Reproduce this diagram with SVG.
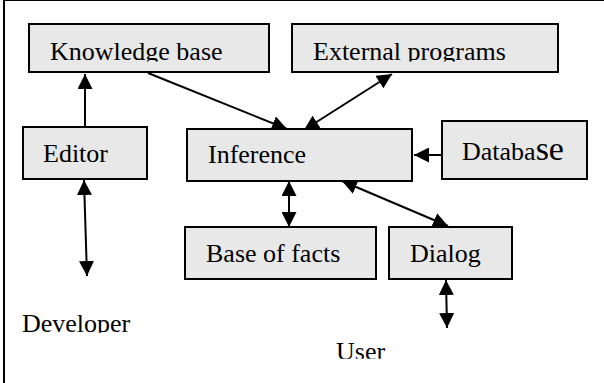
<svg xmlns="http://www.w3.org/2000/svg" width="604" height="383" viewBox="0 0 604 383" font-family="Liberation Serif, Times New Roman, DejaVu Serif, serif">
  <style>
    .box { fill: #e8e8e8; stroke: #000; stroke-width: 2; }
    .lbl { font-size: 26px; fill: #000; }
    .wire { fill: none; stroke: #000; stroke-width: 2; }
    .frame { stroke: #000; fill: none; }
  </style>
  <defs>
    <marker id="arrow" markerUnits="userSpaceOnUse" markerWidth="15" markerHeight="15" refX="15" refY="7.5" orient="auto-start-reverse">
      <path d="M0,0 L15,7.5 L0,15 Z" fill="#000"/>
    </marker>
    <!-- labels whose descenders are cut off by their text frame -->
    <clipPath id="clipTop" clipPathUnits="userSpaceOnUse">
      <rect x="0" y="30" width="604" height="31.5"/>
    </clipPath>
    <clipPath id="clipDev" clipPathUnits="userSpaceOnUse">
      <rect x="0" y="300" width="300" height="32.8"/>
    </clipPath>
    <clipPath id="clipUser" clipPathUnits="userSpaceOnUse">
      <rect x="300" y="330" width="200" height="28.8"/>
    </clipPath>
  </defs>

  <!-- outer frame -->
  <g id="frame">
    <line class="frame" x1="4" y1="0.5" x2="604" y2="0.5" stroke="#333" stroke-width="1.2"/>
    <line class="frame" x1="4" y1="0" x2="4" y2="383" stroke-width="2"/>
  </g>

  <g id="connectors">
    <path class="wire" d="M85,126 L85,74" marker-end="url(#arrow)"/>
    <path class="wire" d="M84,180 L87,276" marker-start="url(#arrow)" marker-end="url(#arrow)"/>
    <path class="wire" d="M148,73 L287,129" marker-end="url(#arrow)"/>
    <path class="wire" d="M392,74 L304,130" marker-start="url(#arrow)" marker-end="url(#arrow)"/>
    <path class="wire" d="M442,155 L414,155" marker-end="url(#arrow)"/>
    <path class="wire" d="M289,181 L289,227" marker-start="url(#arrow)" marker-end="url(#arrow)"/>
    <path class="wire" d="M342,181 L448,226" marker-start="url(#arrow)" marker-end="url(#arrow)"/>
    <path class="wire" d="M446,280 L447,328" marker-start="url(#arrow)" marker-end="url(#arrow)"/>
  </g>

  <g id="knowledge-base">
    <rect class="box" x="29" y="24" width="240" height="48"/>
    <text class="lbl" x="50" y="60" clip-path="url(#clipTop)">Knowledge base</text>
  </g>
  <g id="external-programs">
    <rect class="box" x="292" y="24" width="266" height="48"/>
    <text class="lbl" x="313" y="60" clip-path="url(#clipTop)">External programs</text>
  </g>
  <g id="editor">
    <rect class="box" x="23" y="127" width="124" height="52"/>
    <text class="lbl" x="43" y="162">Editor</text>
  </g>
  <g id="inference">
    <rect class="box" x="187" y="129" width="225" height="52"/>
    <text class="lbl" x="208" y="163">Inference</text>
  </g>
  <g id="database">
    <rect class="box" x="442" y="121" width="145" height="58"/>
    <text class="lbl" x="462" y="160">Databa<tspan font-size="34px">se</tspan></text>
  </g>
  <g id="base-of-facts">
    <rect class="box" x="185" y="227" width="191" height="52"/>
    <text class="lbl" x="206" y="262">Base of facts</text>
  </g>
  <g id="dialog">
    <rect class="box" x="389" y="227" width="123" height="52"/>
    <text class="lbl" x="410" y="262">Dialog</text>
  </g>
  <g id="developer">
    <text class="lbl" x="22" y="331.5" clip-path="url(#clipDev)">Developer</text>
  </g>
  <g id="user">
    <text class="lbl" x="336" y="360" clip-path="url(#clipUser)">User</text>
  </g>
</svg>
